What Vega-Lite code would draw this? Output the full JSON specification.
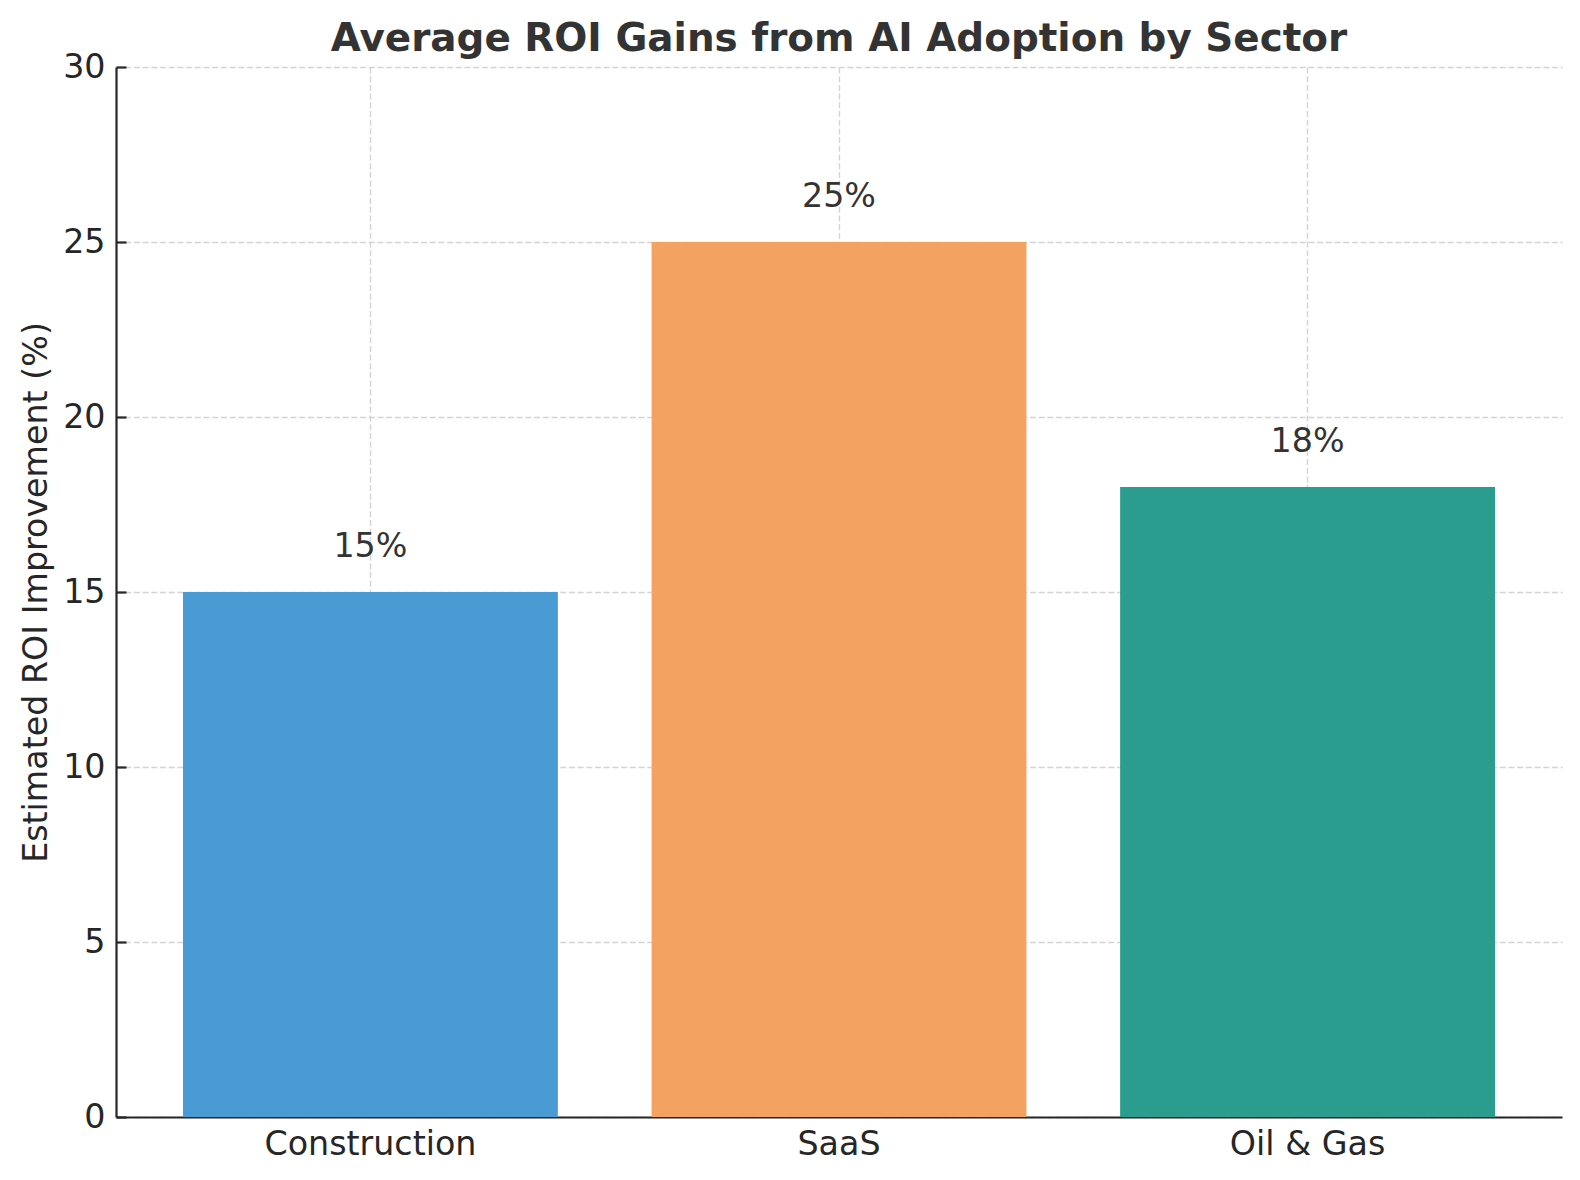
{
  "$schema": "https://vega.github.io/schema/vega-lite/v6.json",
  "autosize": "none",
  "width": 1446,
  "height": 1050,
  "padding": {"left": 116, "top": 67, "right": 18, "bottom": 63},
  "background": "white",
  "title": {
    "text": "Average ROI Gains from AI Adoption by Sector",
    "font": "DejaVu Sans",
    "fontSize": 38.9,
    "fontWeight": "bold",
    "color": "#333333",
    "anchor": "middle",
    "frame": "group",
    "offset": 8,
    "dy": 17
  },
  "data": {
    "values": [
      {"sector": "Construction", "roi": 15, "label": "15%"},
      {"sector": "SaaS", "roi": 25, "label": "25%"},
      {"sector": "Oil & Gas", "roi": 18, "label": "18%"}
    ]
  },
  "config": {
    "view": {"stroke": null},
    "axis": {
      "labelFont": "DejaVu Sans",
      "titleFont": "DejaVu Sans",
      "labelFontSize": 33.3,
      "titleFontSize": 33.3,
      "labelColor": "#262626",
      "titleColor": "#262626",
      "titleFontWeight": "normal",
      "labelLimit": 0,
      "domainColor": "#262626",
      "domainWidth": 2.2,
      "tickColor": "#262626",
      "tickWidth": 2.2,
      "tickSize": -10,
      "labelPadding": 21,
      "gridColor": "#d4d4d4",
      "gridDash": [6, 2.7],
      "gridWidth": 1.4,
      "zindex": 1
    }
  },
  "layer": [
    {
      "mark": {"type": "bar"},
      "encoding": {
        "x": {
          "field": "sector",
          "type": "nominal",
          "sort": ["Construction", "SaaS", "Oil & Gas"],
          "scale": {"paddingInner": 0.2, "paddingOuter": 0.143},
          "axis": {
            "title": null,
            "labelAngle": 0,
            "grid": true,
            "bandPosition": 0.5
          }
        },
        "y": {
          "field": "roi",
          "type": "quantitative",
          "scale": {"domain": [0, 30]},
          "axis": {
            "title": "Estimated ROI Improvement (%)",
            "values": [0, 5, 10, 15, 20, 25, 30],
            "grid": true,
            "titlePadding": 9
          }
        },
        "color": {
          "field": "sector",
          "type": "nominal",
          "scale": {
            "domain": ["Construction", "SaaS", "Oil & Gas"],
            "range": ["#4a9bd3", "#f4a261", "#2a9d8f"]
          },
          "legend": null
        }
      }
    },
    {
      "mark": {
        "type": "text",
        "font": "DejaVu Sans",
        "fontSize": 33.3,
        "color": "#333333",
        "baseline": "alphabetic",
        "dy": -35
      },
      "encoding": {
        "x": {"field": "sector", "type": "nominal", "sort": ["Construction", "SaaS", "Oil & Gas"]},
        "y": {"field": "roi", "type": "quantitative"},
        "text": {"field": "label"}
      }
    }
  ]
}
